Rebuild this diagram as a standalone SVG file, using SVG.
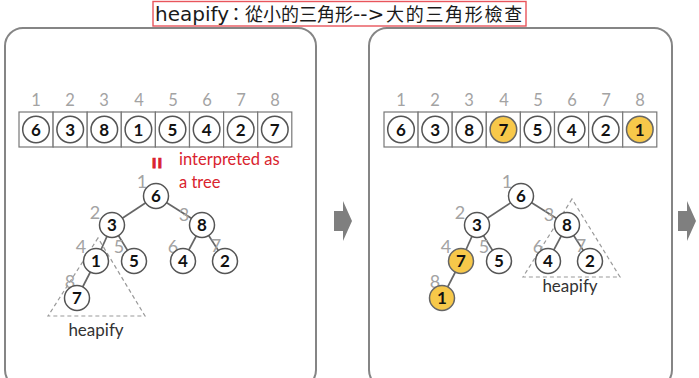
<svg xmlns="http://www.w3.org/2000/svg" width="699" height="378" viewBox="0 0 699 378">
<style>
.panel{fill:#fff;stroke:#858585;stroke-width:2}
.cell{fill:#fff;stroke:#777;stroke-width:1.2}
.c{fill:#fff;stroke:#555;stroke-width:1.5}
.y{fill:#f7c84a;stroke:#666;stroke-width:1.5}
.v{font-family:Lato,"Liberation Sans",sans-serif;font-weight:bold;font-size:17px;fill:#111;text-anchor:middle}
.idx{font-family:Lato,"Liberation Sans",sans-serif;font-size:16.5px;fill:#a3a3a3;text-anchor:middle}
.tidx{font-family:Lato,"Liberation Sans",sans-serif;font-size:18px;fill:#a3a3a3;text-anchor:middle}
.edge{stroke:#666;stroke-width:1.7;fill:none}
.tri{fill:none;stroke:#9a9a9a;stroke-width:1.2;stroke-dasharray:4 3}
.lbl{font-family:Lato,"Liberation Sans",sans-serif;font-size:17px;fill:#333;text-anchor:middle}
.red{font-family:Lato,"Liberation Sans",sans-serif;font-size:16.5px;fill:#d9232e}
.arrow{fill:#7f7f7f}
.cjk{font-family:"Noto Sans CJK TC","Noto Sans CJK SC",sans-serif;font-size:18px}
</style>

<g id="title">
<rect x="153" y="1.5" width="373" height="24.5" fill="#fff" stroke="#e8555c" stroke-width="1.4"/>
<text y="21" fill="#1a1a1a"><tspan x="155" font-family="'DejaVu Sans',sans-serif" font-size="20">heapify</tspan><tspan x="227" class="cjk">：從小的三角形</tspan><tspan x="353" font-family="'DejaVu Sans',sans-serif" font-size="20">--&gt;</tspan><tspan x="386" class="cjk" letter-spacing="1.7">大的三角形檢查</tspan></text>
</g>

<rect id="panel-left" class="panel" x="5" y="28" width="311" height="360" rx="18"/>
<rect id="panel-right" class="panel" x="369" y="28" width="303" height="360" rx="18"/>

<g id="arrows">
<polygon class="arrow" points="334,211 343,211 343,201 352,221 343,241 343,231 334,231"/>
<polygon class="arrow" points="678,211 687,211 687,201 696,221 687,241 687,231 678,231"/>
</g>

<g id="array-left">
<text class="idx" x="36" y="106">1</text><text class="idx" x="70" y="106">2</text><text class="idx" x="104" y="106">3</text><text class="idx" x="139" y="106">4</text><text class="idx" x="173" y="106">5</text><text class="idx" x="207" y="106">6</text><text class="idx" x="241" y="106">7</text><text class="idx" x="275" y="106">8</text>
<rect class="cell" x="19" y="112" width="34.1" height="35"/><rect class="cell" x="53.1" y="112" width="34.1" height="35"/><rect class="cell" x="87.2" y="112" width="34.1" height="35"/><rect class="cell" x="121.3" y="112" width="34.1" height="35"/><rect class="cell" x="155.4" y="112" width="34.1" height="35"/><rect class="cell" x="189.5" y="112" width="34.1" height="35"/><rect class="cell" x="223.6" y="112" width="34.1" height="35"/><rect class="cell" x="257.7" y="112" width="34.1" height="35"/>
<circle class="c" cx="36" cy="129.5" r="13.3"/><text class="v" x="36" y="135.5">6</text>
<circle class="c" cx="70.2" cy="129.5" r="13.3"/><text class="v" x="70.2" y="135.5">3</text>
<circle class="c" cx="104.3" cy="129.5" r="13.3"/><text class="v" x="104.3" y="135.5">8</text>
<circle class="c" cx="138.4" cy="129.5" r="13.3"/><text class="v" x="138.4" y="135.5">1</text>
<circle class="c" cx="172.5" cy="129.5" r="13.3"/><text class="v" x="172.5" y="135.5">5</text>
<circle class="c" cx="206.6" cy="129.5" r="13.3"/><text class="v" x="206.6" y="135.5">4</text>
<circle class="c" cx="240.7" cy="129.5" r="13.3"/><text class="v" x="240.7" y="135.5">2</text>
<circle class="c" cx="274.8" cy="129.5" r="13.3"/><text class="v" x="274.8" y="135.5">7</text>
</g>

<g id="interpreted">
<text x="151.2" y="169.6" font-family="'Liberation Sans',sans-serif" font-weight="bold" font-size="20" fill="#d9232e" stroke="#d9232e" stroke-width="0.9" transform="rotate(90 157 163)">=</text>
<text class="red" x="179" y="165">interpreted as</text>
<text class="red" x="179" y="188">a tree</text>
</g>

<g id="array-right">
<text class="idx" x="401" y="106">1</text><text class="idx" x="435" y="106">2</text><text class="idx" x="469" y="106">3</text><text class="idx" x="504" y="106">4</text><text class="idx" x="538" y="106">5</text><text class="idx" x="572" y="106">6</text><text class="idx" x="606" y="106">7</text><text class="idx" x="640" y="106">8</text>
<rect class="cell" x="384" y="112" width="34.1" height="35"/><rect class="cell" x="418.1" y="112" width="34.1" height="35"/><rect class="cell" x="452.2" y="112" width="34.1" height="35"/><rect class="cell" x="486.3" y="112" width="34.1" height="35"/><rect class="cell" x="520.4" y="112" width="34.1" height="35"/><rect class="cell" x="554.5" y="112" width="34.1" height="35"/><rect class="cell" x="588.6" y="112" width="34.1" height="35"/><rect class="cell" x="622.7" y="112" width="34.1" height="35"/>
<circle class="c" cx="401" cy="129.5" r="13.3"/><text class="v" x="401" y="135.5">6</text>
<circle class="c" cx="435.2" cy="129.5" r="13.3"/><text class="v" x="435.2" y="135.5">3</text>
<circle class="c" cx="469.3" cy="129.5" r="13.3"/><text class="v" x="469.3" y="135.5">8</text>
<circle class="y" cx="503.4" cy="129.5" r="13.3"/><text class="v" x="503.4" y="135.5">7</text>
<circle class="c" cx="537.5" cy="129.5" r="13.3"/><text class="v" x="537.5" y="135.5">5</text>
<circle class="c" cx="571.6" cy="129.5" r="13.3"/><text class="v" x="571.6" y="135.5">4</text>
<circle class="c" cx="605.7" cy="129.5" r="13.3"/><text class="v" x="605.7" y="135.5">2</text>
<circle class="y" cx="639.8" cy="129.5" r="13.3"/><text class="v" x="639.8" y="135.5">1</text>
</g>

<g id="heapify-left">
<polygon class="tri" points="98,238 48,316 145,316"/>
<text class="lbl" x="96" y="336">heapify</text>
</g>
<g id="heapify-right">
<polygon class="tri" points="572,199 523,277 620,277"/>
<text class="lbl" x="570" y="292">heapify</text>
</g>

<g id="connectors">
<line class="edge" x1="156" y1="196" x2="112" y2="225"/>
<line class="edge" x1="156" y1="196" x2="202" y2="225"/>
<line class="edge" x1="112" y1="225" x2="96" y2="261"/>
<line class="edge" x1="112" y1="225" x2="134" y2="261"/>
<line class="edge" x1="202" y1="225" x2="183" y2="261"/>
<line class="edge" x1="202" y1="225" x2="225" y2="261"/>
<line class="edge" x1="96" y1="261" x2="77" y2="298"/>
<line class="edge" x1="521" y1="196" x2="477" y2="225"/>
<line class="edge" x1="521" y1="196" x2="567" y2="225"/>
<line class="edge" x1="477" y1="225" x2="461" y2="261"/>
<line class="edge" x1="477" y1="225" x2="499" y2="261"/>
<line class="edge" x1="567" y1="225" x2="548" y2="261"/>
<line class="edge" x1="567" y1="225" x2="590" y2="261"/>
<line class="edge" x1="461" y1="261" x2="442" y2="298"/>
</g>

<g id="L1"><text class="tidx" x="142" y="188">1</text><circle class="c" cx="156" cy="196" r="12.5"/><text class="v" x="156" y="202">6</text></g>
<g id="L2"><text class="tidx" x="95" y="219">2</text><circle class="c" cx="112" cy="225" r="12.5"/><text class="v" x="112" y="231">3</text></g>
<g id="L3"><circle class="c" cx="202" cy="225" r="12.5"/><text class="v" x="202" y="231">8</text><text class="tidx" x="184" y="221">3</text></g>
<g id="L4"><text class="tidx" x="81" y="253">4</text><circle class="c" cx="96" cy="261" r="12.5"/><text class="v" x="96" y="267">1</text></g>
<g id="L5"><text class="tidx" x="119" y="253">5</text><circle class="c" cx="134" cy="261" r="12.5"/><text class="v" x="134" y="267">5</text></g>
<g id="L6"><text class="tidx" x="173" y="253">6</text><circle class="c" cx="183" cy="261" r="12.5"/><text class="v" x="183" y="267">4</text></g>
<g id="L7"><text class="tidx" x="216" y="252">7</text><circle class="c" cx="225" cy="261" r="12.5"/><text class="v" x="225" y="267">2</text></g>
<g id="L8"><text class="tidx" x="70" y="288">8</text><circle class="c" cx="77" cy="298" r="12.5"/><text class="v" x="77" y="304">7</text></g>

<g id="R1"><text class="tidx" x="507" y="188">1</text><circle class="c" cx="521" cy="196" r="12.5"/><text class="v" x="521" y="202">6</text></g>
<g id="R2"><text class="tidx" x="460" y="219">2</text><circle class="c" cx="477" cy="225" r="12.5"/><text class="v" x="477" y="231">3</text></g>
<g id="R3"><circle class="c" cx="567" cy="225" r="12.5"/><text class="v" x="567" y="231">8</text><text class="tidx" x="549" y="221">3</text></g>
<g id="R4"><text class="tidx" x="446" y="253">4</text><circle class="y" cx="461" cy="261" r="12.5"/><text class="v" x="461" y="267">7</text></g>
<g id="R5"><text class="tidx" x="484" y="253">5</text><circle class="c" cx="499" cy="261" r="12.5"/><text class="v" x="499" y="267">5</text></g>
<g id="R6"><text class="tidx" x="538" y="253">6</text><circle class="c" cx="548" cy="261" r="12.5"/><text class="v" x="548" y="267">4</text></g>
<g id="R7"><text class="tidx" x="581" y="252">7</text><circle class="c" cx="590" cy="261" r="12.5"/><text class="v" x="590" y="267">2</text></g>
<g id="R8"><text class="tidx" x="435" y="288">8</text><circle class="y" cx="442" cy="298" r="12.5"/><text class="v" x="442" y="304">1</text></g>
</svg>
